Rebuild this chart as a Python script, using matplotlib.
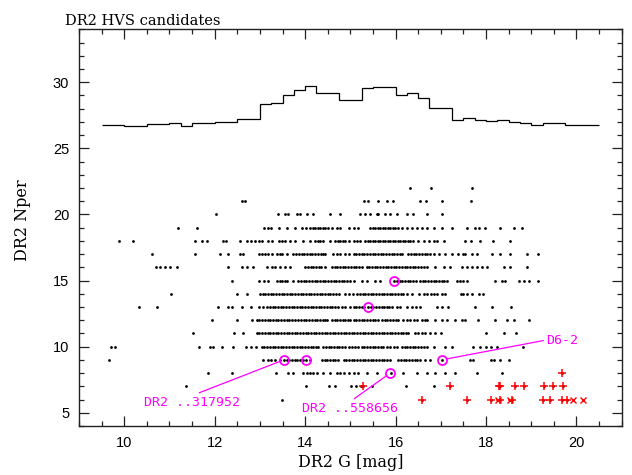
import numpy as np
import matplotlib
matplotlib.use('Agg')
import matplotlib.pyplot as plt
from matplotlib.ticker import MultipleLocator

# 1. 등급 분포 히스토그램 (0.25 mag 빈, 9.5 ~ 20.5)
hist_levels = [26.75, 26.75, 26.72, 26.72, 26.82, 26.82, 26.88, 26.72, 26.90, 26.90,
               26.98, 26.98, 27.19, 27.19, 28.36, 28.45, 29.04, 29.44, 29.72, 29.17,
               29.17, 28.68, 28.68, 29.54, 29.66, 29.66, 29.02, 29.15, 28.81, 28.03,
               28.03, 27.11, 27.32, 27.14, 27.06, 27.14, 27.01, 26.90, 26.77, 26.88,
               26.88, 26.80, 26.75, 26.75]
hist_edges = np.linspace(9.5, 20.5, len(hist_levels) + 1)

# 2. Nper 별 G 등급 (검은 점)
row_22 = [16.33, 16.79, 17.70]
row_21 = [12.60, 12.66, 15.31, 15.40, 15.62, 15.82, 15.95, 16.54, 16.67, 17.03, 17.67]
row_20 = [12.04, 13.39, 13.55, 13.63, 13.81, 13.89, 14.05, 14.18, 14.55, 14.77, 15.21,
          15.32, 15.44, 15.58, 15.62, 15.77, 15.88, 16.03, 16.25, 16.39, 16.69, 17.02]
row_19 = [11.20, 11.60, 13.08, 13.19, 13.25, 13.43, 13.59, 13.78, 13.92, 14.03, 14.11,
          14.17, 14.22, 14.28, 14.33, 14.39, 14.44, 14.51, 14.59, 14.70, 14.77, 14.96,
          15.07, 15.18, 15.44, 15.50, 15.55, 15.61, 15.66, 15.72, 15.77, 15.83, 15.88,
          15.94, 15.99, 16.05, 16.14, 16.25, 16.36, 16.47, 16.58, 16.69, 16.84, 17.02,
          17.24, 17.59, 17.76, 17.85, 17.98, 18.30, 18.61, 18.79]
row_18 = [9.89, 10.20, 11.56, 11.71, 11.82, 12.19, 12.26, 12.56, 12.71, 12.80, 12.89,
          12.97, 13.04, 13.19, 13.26, 13.43, 13.48, 13.55, 13.67, 13.78, 13.96, 14.11,
          14.22, 14.28, 14.33, 14.40, 14.55, 14.66, 14.72, 14.77, 14.83, 14.89, 14.96,
          15.07, 15.14, 15.21, 15.32, 15.38, 15.44, 15.50, 15.55, 15.61, 15.66, 15.72,
          15.77, 15.83, 15.88, 15.94, 15.99, 16.05, 16.10, 16.16, 16.21, 16.27, 16.32,
          16.39, 16.50, 16.62, 16.73, 16.84, 16.91, 17.06, 17.54, 17.67, 17.87, 18.16,
          18.52]
row_17 = [10.61, 11.56, 12.12, 12.30, 12.56, 12.62, 12.97, 13.04, 13.11, 13.19, 13.26,
          13.37, 13.44, 13.48, 13.59, 13.74, 13.80, 13.86, 13.92, 13.98, 14.04, 14.10,
          14.16, 14.22, 14.28, 14.34, 14.40, 14.44, 14.62, 14.70, 14.77, 14.88, 14.96,
          15.07, 15.13, 15.19, 15.25, 15.31, 15.37, 15.43, 15.49, 15.55, 15.61, 15.67,
          15.73, 15.79, 15.85, 15.91, 15.97, 16.03, 16.09, 16.14, 16.28, 16.34, 16.40,
          16.46, 16.52, 16.58, 16.64, 16.70, 16.76, 16.84, 16.95, 17.10, 17.24, 17.39,
          17.50, 17.54, 17.68, 17.80, 18.13, 18.31, 18.52, 18.90, 19.16]
row_16 = [10.70, 10.79, 10.90, 11.01, 11.16, 12.30, 12.60, 12.71, 12.85, 13.15, 13.26,
          13.33, 13.44, 13.55, 13.67, 14.00, 14.06, 14.12, 14.18, 14.24, 14.30, 14.36,
          14.44, 14.59, 14.65, 14.71, 14.77, 14.83, 14.89, 14.95, 15.01, 15.07, 15.13,
          15.19, 15.25, 15.36, 15.42, 15.48, 15.54, 15.60, 15.66, 15.72, 15.78, 15.84,
          15.90, 15.96, 16.02, 16.08, 16.14, 16.20, 16.26, 16.32, 16.38, 16.44, 16.50,
          16.56, 16.62, 16.69, 16.87, 17.06, 17.21, 17.46, 17.57, 17.68, 17.80, 17.91,
          18.02, 18.39, 18.53, 18.90]
row_15 = [12.38, 12.97, 13.08, 13.19, 13.37, 13.44, 13.48, 13.55, 13.59, 13.74, 13.85,
          13.91, 13.97, 14.03, 14.09, 14.15, 14.21, 14.27, 14.33, 14.39, 14.45, 14.51,
          14.57, 14.63, 14.69, 14.75, 14.81, 14.87, 14.92, 15.00, 15.07, 15.25, 15.36,
          15.55, 15.66, 15.96, 16.03, 16.09, 16.15, 16.21, 16.27, 16.33, 16.39, 16.45,
          16.54, 16.60, 16.66, 16.72, 16.78, 16.84, 16.90, 16.96, 17.02, 17.08, 17.13,
          17.35, 17.43, 17.50, 17.57, 18.20, 18.35, 18.42, 18.72, 18.83, 18.94, 19.14]
row_14 = [11.03, 12.50, 12.71, 13.00, 13.06, 13.12, 13.18, 13.24, 13.30, 13.36, 13.42,
          13.48, 13.54, 13.60, 13.66, 13.72, 13.78, 13.84, 13.90, 13.96, 14.02, 14.08,
          14.14, 14.20, 14.26, 14.32, 14.38, 14.44, 14.50, 14.56, 14.62, 14.68, 14.74,
          14.88, 14.96, 15.05, 15.14, 15.21, 15.27, 15.33, 15.39, 15.45, 15.51, 15.57,
          15.63, 15.69, 15.75, 15.81, 15.87, 15.93, 15.99, 16.05, 16.11, 16.17, 16.25,
          16.36, 16.51, 16.62, 16.70, 16.78, 16.85, 16.91, 17.02, 17.10, 17.45, 17.50,
          17.57, 17.69, 17.85, 17.94]
row_13 = [10.33, 10.72, 12.08, 12.30, 12.38, 12.61, 12.80, 12.97, 13.06, 13.15, 13.22,
          13.28, 13.34, 13.40, 13.46, 13.52, 13.58, 13.64, 13.70, 13.76, 13.82, 13.88,
          13.94, 14.00, 14.06, 14.12, 14.18, 14.24, 14.30, 14.36, 14.42, 14.48, 14.54,
          14.60, 14.66, 14.72, 14.81, 14.88, 14.99, 15.07, 15.13, 15.19, 15.25, 15.31,
          15.40, 15.46, 15.51, 15.57, 15.63, 15.69, 15.75, 15.81, 15.86, 15.92, 16.03,
          16.10, 16.25, 16.36, 16.45, 16.54, 16.91, 17.02, 17.17, 17.76, 18.14, 18.55]
row_12 = [11.93, 12.49, 12.83, 12.93, 12.99, 13.05, 13.11, 13.17, 13.23, 13.29, 13.35,
          13.41, 13.47, 13.53, 13.59, 13.65, 13.71, 13.78, 13.85, 13.91, 13.97, 14.03,
          14.09, 14.15, 14.21, 14.27, 14.33, 14.39, 14.45, 14.48, 14.59, 14.65, 14.71,
          14.77, 14.83, 14.89, 14.95, 14.99, 15.07, 15.13, 15.19, 15.25, 15.31, 15.37,
          15.43, 15.49, 15.55, 15.62, 15.70, 15.76, 15.82, 15.88, 15.94, 16.00, 16.06,
          16.17, 16.25, 16.32, 16.40, 16.47, 16.58, 16.64, 16.69, 16.87, 17.02, 17.13,
          17.32, 17.46, 17.54, 17.83, 18.20, 18.46, 18.61, 18.96]
row_11 = [11.53, 12.43, 12.63, 12.93, 12.99, 13.05, 13.11, 13.17, 13.23, 13.29, 13.35,
          13.41, 13.47, 13.53, 13.59, 13.65, 13.71, 13.77, 13.83, 13.89, 13.95, 14.01,
          14.07, 14.13, 14.19, 14.25, 14.31, 14.37, 14.43, 14.49, 14.55, 14.61, 14.67,
          14.73, 14.79, 14.85, 14.91, 14.97, 15.03, 15.09, 15.15, 15.21, 15.27, 15.33,
          15.39, 15.45, 15.51, 15.57, 15.63, 15.69, 15.75, 15.81, 15.87, 15.93, 15.99,
          16.05, 16.11, 16.17, 16.23, 16.28, 16.43, 16.50, 16.58, 16.65, 16.76, 16.87,
          17.00, 18.00, 18.39, 18.67]
row_10 = [9.70, 9.79, 11.66, 11.90, 11.96, 12.16, 12.41, 12.69, 12.80, 12.91, 13.04,
          13.10, 13.16, 13.22, 13.28, 13.34, 13.40, 13.46, 13.52, 13.58, 13.64, 13.70,
          13.76, 13.82, 13.88, 13.94, 14.00, 14.06, 14.12, 14.18, 14.24, 14.29, 14.40,
          14.46, 14.52, 14.58, 14.64, 14.70, 14.76, 14.81, 14.88, 14.96, 15.04, 15.11,
          15.18, 15.25, 15.31, 15.37, 15.43, 15.49, 15.55, 15.61, 15.67, 15.73, 15.80,
          15.88, 15.96, 16.03, 16.14, 16.20, 16.26, 16.32, 16.38, 16.44, 16.50, 16.56,
          16.62, 16.69, 16.84, 17.10, 17.24, 17.71, 17.87, 18.00, 18.10, 18.24, 18.81]
row_9 = [9.67, 13.06, 13.17, 13.25, 13.33, 13.45, 13.53, 13.59, 13.65, 13.71, 13.77,
         13.83, 13.89, 13.96, 14.03, 14.11, 14.37, 14.43, 14.49, 14.55, 14.61, 14.67,
         14.73, 14.85, 14.91, 14.97, 15.03, 15.09, 15.15, 15.21, 15.27, 15.33, 15.39,
         15.45, 15.51, 15.57, 15.63, 15.69, 15.75, 15.81, 15.88, 16.06, 16.12, 16.18,
         16.24, 16.30, 16.36, 16.42, 16.48, 16.54, 16.65, 16.76, 17.02, 17.65, 17.72,
         18.11, 18.17, 18.30, 18.50]
row_8 = [11.86, 12.38, 13.36, 13.63, 13.74, 13.96, 14.04, 14.11, 14.18, 14.26, 14.40,
         14.55, 14.70, 14.77, 14.85, 14.96, 15.07, 15.18, 15.36, 15.58, 15.89, 16.17,
         16.47, 16.69, 16.87, 17.10, 17.32, 17.80, 18.36, 19.68]
row_7 = [11.36, 14.03, 14.52, 14.67, 15.01, 15.13, 15.24, 15.29, 15.47, 16.24, 16.84,
         17.21, 18.28, 18.31, 18.63, 18.84, 19.28, 19.49, 19.70]
row_6 = [13.48, 16.59, 17.59, 18.10, 18.30, 18.57, 19.26, 19.42, 19.68, 19.79]

rows = {22: row_22, 21: row_21, 20: row_20, 19: row_19, 18: row_18, 17: row_17,
        16: row_16, 15: row_15, 14: row_14, 13: row_13, 12: row_12, 11: row_11,
        10: row_10, 9: row_9, 8: row_8, 7: row_7, 6: row_6}

# 3. 붉은 표시 (+ 와 x)
plus_g = [19.68, 15.29, 17.21, 18.28, 18.31, 18.63, 18.84, 19.28, 19.49, 19.70,
          16.59, 17.59, 18.10, 18.30, 18.57, 19.26, 19.42, 19.68, 19.79]
plus_n = [8, 7, 7, 7, 7, 7, 7, 7, 7, 7,
          6, 6, 6, 6, 6, 6, 6, 6, 6]
cross_g = [18.26, 18.53, 19.93, 20.15]
cross_n = [6, 6, 6, 6]

# 4. 강조한 별 (자홍색 원)
circle_g = [13.53, 14.03, 17.02, 15.40, 15.96, 15.88]
circle_n = [9, 9, 9, 13, 15, 8]

fig = plt.figure(figsize=(6.32, 4.75), dpi=100)
ax = fig.add_axes([0.125, 0.1032, 0.8587, 0.8351])

ax.stairs(hist_levels, hist_edges, baseline=None, color='k', lw=0.9)

for n, g in rows.items():
    ax.plot(g, [n] * len(g), 'o', ms=2.0, color='k', mec='none')

ax.plot(plus_g, plus_n, '+', ms=6, mew=1.1, color='red')
ax.plot(cross_g, cross_n, 'x', ms=5, mew=1.0, color='red')
ax.plot(circle_g, circle_n, 'o', ms=6.5, mfc='none', mec='magenta', mew=1.3)

# 5. 라벨과 연결선
lab = dict(color='magenta', family='DejaVu Sans Mono', fontsize=9.5)
line = dict(arrowstyle='-', color='magenta', lw=0.9, shrinkA=0, shrinkB=3.5)
ax.annotate('DR2 ..317952', xy=(13.53, 9), xytext=(11.5, 6.3), ha='center', va='top',
            arrowprops=dict(line, relpos=(0.5, 1.0)), **lab)
ax.annotate('DR2 ..558656', xy=(15.88, 8), xytext=(15.0, 5.85), ha='center', va='top',
            arrowprops=dict(line, relpos=(0.5, 1.0)), **lab)
ax.annotate('D6-2', xy=(17.02, 9), xytext=(19.33, 10.5), ha='left', va='center',
            arrowprops=dict(line, relpos=(0.0, 0.5)), **lab)

# 6. 축 설정
ax.set_xlim(9, 21)
ax.set_ylim(4, 34)
ax.xaxis.set_major_locator(MultipleLocator(2))
ax.xaxis.set_minor_locator(MultipleLocator(0.5))
ax.yaxis.set_major_locator(MultipleLocator(5))
ax.yaxis.set_minor_locator(MultipleLocator(1))
ax.tick_params(which='both', direction='in', top=True, right=True, width=0.9, colors='#222222')
ax.tick_params(which='major', length=7)
ax.tick_params(which='minor', length=3.5)
ax.tick_params(labelsize=10.5, labelcolor='k', pad=7)
for lbl in ax.get_xticklabels() + ax.get_yticklabels():
    lbl.set_family('Liberation Sans')
for s in ax.spines.values():
    s.set_linewidth(1.0)
    s.set_color('#222222')

ax.set_xlabel('DR2 G [mag]', family='DejaVu Serif', fontsize=11.5, labelpad=3)
ax.set_ylabel('DR2 Nper', family='DejaVu Serif', fontsize=11.5)
ax.yaxis.set_label_coords(-0.088, 0.52)
fig.text(65 / 632, 1 - 25 / 475, 'DR2 HVS candidates', family='DejaVu Serif',
         fontsize=10.5, va='baseline', ha='left')

fig.savefig('out.png', dpi=100)
